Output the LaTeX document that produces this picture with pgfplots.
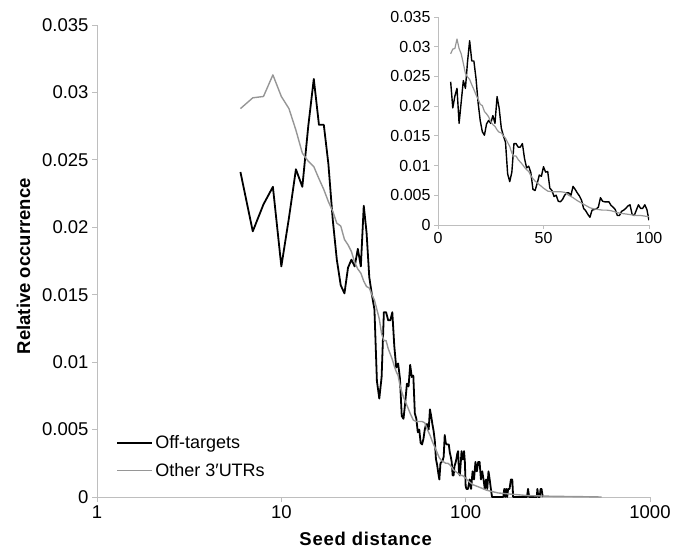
\documentclass[border=0pt]{standalone}
\usepackage{fontspec}
\setmainfont{Liberation Sans}
\usepackage{pgfplots}
\usepackage{pgfplotstable}
\pgfplotsset{compat=1.18}
\definecolor{axgray}{RGB}{190,190,190}
\definecolor{lgray}{RGB}{150,150,150}

\pgfplotstableread{
x y
6 0.0241
7 0.0197
8 0.0217
9 0.0230
10 0.0171
11 0.0207
12 0.0243
13 0.0230
14 0.0275
15 0.0310
16 0.0276
17 0.0276
18 0.0247
19 0.0206
20 0.0176
21 0.0157
22 0.0151
23 0.0170
24 0.0176
25 0.0171
26 0.0184
27 0.0171
28 0.0216
29 0.0196
30 0.0163
31 0.0150
32 0.0139
33 0.0086
34 0.0073
35 0.0089
36 0.0137
37 0.0137
38 0.0131
39 0.0131
40 0.0137
41 0.0112
42 0.0096
43 0.0099
44 0.0088
45 0.0060
46 0.0058
47 0.0070
48 0.0084
49 0.0082
50 0.0098
51 0.0089
52 0.0090
53 0.0062
54 0.0058
55 0.0048
56 0.0050
57 0.0040
58 0.0039
59 0.0043
60 0.0050
61 0.0054
62 0.0054
63 0.0050
64 0.0065
65 0.0060
66 0.0054
67 0.0049
68 0.0042
69 0.0028
70 0.0024
71 0.0018
72 0.0013
73 0.0025
74 0.0026
75 0.0027
76 0.0030
77 0.0046
78 0.0040
79 0.0039
80 0.0039
81 0.0039
82 0.0033
83 0.0030
84 0.0026
85 0.0016
86 0.0016
87 0.0023
88 0.0025
89 0.0028
90 0.0032
91 0.0034
92 0.0018
93 0.0016
94 0.0025
95 0.0034
96 0.0028
97 0.0028
98 0.0034
99 0.0026
100 0.0008
101 0.0006
103 0.0006
105 0.0013
107 0.0006
109 0.0019
111 0.0013
113 0.0026
115 0.0019
117 0.0026
119 0.0026
121 0.0013
123 0.0019
125 0.0013
127 0.0006
129 0.0013
131 0.0006
133 0.0019
135 0.0013
137 0.0006
139 0
150 0
160 0
162 0.0006
164 0
166 0.0006
168 0
170 0.0006
173 0.0006
176 0.0013
179 0.0013
181 0
190 0
215 0
218 0.0006
221 0
243 0
245 0.0006
248 0
252 0
255 0.0006
258 0.0006
262 0
}\offtab

\pgfplotstableread{
x y
6 0.0288
7 0.0296
8 0.0297
9 0.0313
10 0.0297
11 0.0288
12 0.0272
13 0.0255
14 0.0249
15 0.0245
16 0.0236
17 0.0228
18 0.0219
19 0.0212
20 0.0203
21 0.0201
22 0.0191
23 0.0187
24 0.0182
25 0.0174
26 0.0169
27 0.0166
28 0.0160
29 0.0156
30 0.0155
31 0.0150
32 0.0146
33 0.0139
34 0.0132
35 0.0121
36 0.0116
37 0.0116
38 0.0110
39 0.0106
40 0.0102
41 0.0097
42 0.0093
43 0.0090
44 0.0083
45 0.0078
46 0.0074
47 0.0071
48 0.0068
49 0.0065
50 0.0062
52 0.0057
54 0.0056
56 0.0056
58 0.0056
60 0.0055
62 0.0050
64 0.0046
66 0.0041
68 0.0037
70 0.0033
72 0.0029
74 0.0027
76 0.0026
78 0.0025
80 0.0025
82 0.0024
84 0.0022
86 0.0020
88 0.0019
90 0.0018
92 0.0017
94 0.0016
96 0.0016
98 0.0015
100 0.0014
105 0.0011
110 0.0009
120 0.0007
130 0.0005
150 0.0003
180 0.0002
220 0.0001
300 0.00005
400 0.00003
546 0
}\othtab

\begin{document}
\begin{tikzpicture}
\path[use as bounding box] (0pt,0pt) rectangle (683pt,552pt);
\begin{axis}[
  at={(97pt,55pt)}, anchor=south west,
  scale only axis, width=553pt, height=472pt,
  xmode=log, xmin=1, xmax=1000, ymin=0, ymax=0.035,
  scaled y ticks=false, scaled x ticks=false,
  axis lines=left,
  axis line style={draw=axgray, line width=0.8pt, -},
  xtick={1,10,100,1000}, xticklabels={1,10,100,1000},
  ytick={0,0.005,0.01,0.015,0.02,0.025,0.03,0.035},
  yticklabels={0,0.005,0.01,0.015,0.02,0.025,0.03,0.035},
  xminorticks=false, yminorticks=false,
  tick align=outside, major tick length=5pt,
  tick style={draw=axgray, line width=0.8pt},
  ticklabel style={font=\fontsize{18.5}{21}\selectfont, text=black},
  xlabel={Seed distance}, ylabel={Relative occurrence},
  xlabel style={font=\fontsize{18.5}{21}\selectfont\bfseries\addfontfeature{LetterSpace=4}, at={(axis description cs:0.486,0)}, anchor=base, inner sep=0pt, yshift=-48pt},
  ylabel style={font=\fontsize{18.5}{21}\selectfont\bfseries, at={(axis description cs:-0.121,0.489)}, anchor=base, inner sep=0pt},
  legend cell align=left,
  legend style={draw=none, fill=none, font=\fontsize{18}{21}\selectfont, at={(axis description cs:0.035,0.135)}, anchor=north west, row sep=9pt, inner sep=0pt},
  legend image code/.code={\draw[#1] (0pt,0pt) -- (35pt,0pt);},
]
\addplot[black, line width=1.8pt, line join=round] table[x=x,y=y] {\offtab};
\addlegendentry{Off-targets}
\addplot[lgray, line width=1.4pt, line join=round] table[x=x,y=y] {\othtab};
\addlegendentry{Other 3′UTRs}
\end{axis}
\begin{axis}[
  at={(438pt,327pt)}, anchor=south west,
  scale only axis, width=211pt, height=208pt,
  xmin=0, xmax=100, ymin=0, ymax=0.035,
  scaled y ticks=false, scaled x ticks=false,
  axis lines=left,
  axis line style={draw=axgray, line width=0.8pt, -},
  xtick={0,50,100}, xticklabels={0,50,100},
  ytick={0,0.005,0.01,0.015,0.02,0.025,0.03,0.035},
  yticklabels={0,0.005,0.01,0.015,0.02,0.025,0.03,0.035},
  tick align=outside, major tick length=4pt,
  tick style={draw=axgray, line width=0.8pt},
  ticklabel style={font=\fontsize{16}{18}\selectfont, text=black},
]
\addplot[black, line width=1.4pt, line join=round, restrict x to domain=0:100] table[x=x,y=y] {\offtab};
\addplot[lgray, line width=1.2pt, line join=round, restrict x to domain=0:100] table[x=x,y=y] {\othtab};
\end{axis}
\end{tikzpicture}
\end{document}
